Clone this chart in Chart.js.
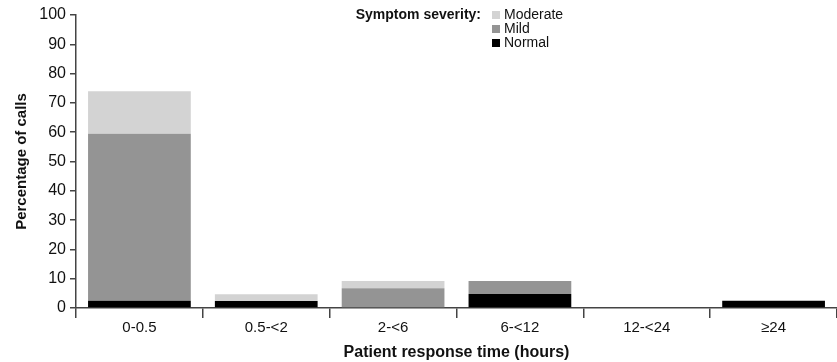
<!DOCTYPE html>
<html>
<head>
<meta charset="utf-8">
<script src="https://cdn.jsdelivr.net/npm/chart.js@4.4.1/dist/chart.umd.min.js"></script>
<style>
html,body{margin:0;padding:0;background:#fff;}
#wrap{width:837px;height:362px;position:relative;}
</style>
</head>
<body>
<div id="wrap"><canvas id="c" width="837" height="362"></canvas></div>
<script>
const categories = ['0-0.5', '0.5-<2', '2-<6', '6-<12', '12-<24', '\u226524'];
const normal   = [2.5, 2.4, 0,   4.8, 0, 2.5];
const mild     = [57.0, 0,  6.7, 4.4, 0, 0];
const moderate = [14.5, 2.3, 2.5, 0,  0, 0];
const yTicks = [0,10,20,30,40,50,60,70,80,90,100];
const legendTitle = 'Symptom severity:';

const FONT = "'Liberation Sans', Arial, Helvetica, sans-serif";

const legendPlugin = {
  id: 'sideLegend',
  afterDraw(chart) {
    const ctx = chart.ctx;
    ctx.save();
    ctx.fillStyle = '#111';
    ctx.textBaseline = 'middle';
    ctx.font = 'bold 14px ' + FONT;
    ctx.textAlign = 'right';
    ctx.fillText(legendTitle, 481, 15);
    ctx.font = '14px ' + FONT;
    ctx.textAlign = 'left';
    const order = [2, 1, 0];
    order.forEach((di, i) => {
      const ds = chart.data.datasets[di];
      const y = 15 + i * 14;
      ctx.fillStyle = ds.backgroundColor;
      ctx.fillRect(492, y - 4, 8, 8);
      ctx.fillStyle = '#111';
      ctx.fillText(ds.label, 504, y + 0.5);
    });
    ctx.restore();
  }
};

new Chart(document.getElementById('c'), {
  type: 'bar',
  data: {
    labels: categories,
    datasets: [
      { label: 'Normal', data: normal, backgroundColor: '#000000' },
      { label: 'Mild', data: mild, backgroundColor: '#949494' },
      { label: 'Moderate', data: moderate, backgroundColor: '#d3d3d3' }
    ]
  },
  options: {
    responsive: false,
    animation: false,
    layout: { padding: { top: 15, right: 0, left: 0, bottom: 0 } },
    categoryPercentage: 0.81,
    barPercentage: 1.0,
    plugins: { legend: { display: false }, tooltip: { enabled: false } },
    scales: {
      x: {
        stacked: true,
        border: { color: '#444', width: 1.5 },
        grid: { drawOnChartArea: false, drawTicks: true, tickLength: 10, color: '#444', lineWidth: 1.5, offset: true },
        ticks: { color: '#111', font: { family: FONT, size: 15 }, padding: 1 },
        title: { display: true, text: 'Patient response time (hours)', color: '#111', font: { family: FONT, size: 16, weight: 'bold' }, padding: { top: 2, bottom: 0 } },
        afterFit(s) { s.height = 54; }
      },
      y: {
        stacked: true,
        min: 0, max: 100,
        afterBuildTicks(s) { s.ticks = yTicks.map(v => ({ value: v })); },
        border: { color: '#444', width: 1.5 },
        grid: { drawOnChartArea: false, drawTicks: true, tickLength: 6, color: '#444', lineWidth: 1.5 },
        ticks: { color: '#111', font: { family: FONT, size: 16 }, padding: 4 },
        title: { display: true, text: 'Percentage of calls', color: '#111', font: { family: FONT, size: 15, weight: 'bold' }, padding: { top: 13, bottom: 6 } },
        afterFit(s) { s.width = 76; s.paddingTop = 0; s.paddingBottom = 0; }
      }
    }
  },
  plugins: [legendPlugin]
});
</script>
</body>
</html>
